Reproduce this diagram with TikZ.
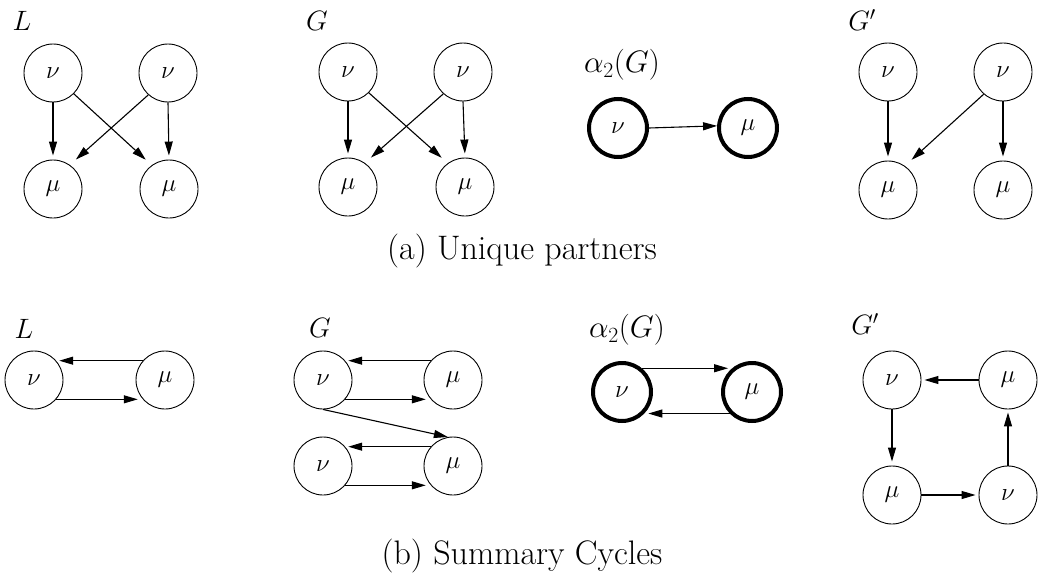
\RequirePackage{fix-cm}
\documentclass[tikz,border=0pt]{standalone}
\usetikzlibrary{arrows.meta}
\begin{document}
\begin{tikzpicture}[x=1pt,y=-1pt,
  vert/.style={circle,draw,line width=0.9pt,minimum size=58pt,inner sep=0pt,font=\fontsize{25}{30}\selectfont},
  bvert/.style={vert,line width=4pt},
  arr/.style={-{Triangle[length=14pt,width=8pt]},line width=1.1pt},
  lab/.style={font=\fontsize{28}{33}\selectfont,inner sep=0pt},
  alab/.style={font=\fontsize{31}{36}\selectfont,inner sep=0pt},
  capt/.style={font=\fontsize{34}{40}\selectfont,inner sep=0pt}]
\useasboundingbox (0,0) rectangle (1039,578);

% ---------- (a) Unique partners ----------
% L
\node[lab] (taL) at (22,21) {$L$};
\node[vert] (aLn1) at (53,73) {$\nu$};
\node[vert] (aLn2) at (168,73) {$\nu$};
\node[vert] (aLm1) at (53,189) {$\mu$};
\node[vert] (aLm2) at (169,189) {$\mu$};
\draw[arr,shorten >=4pt] (aLn1.south) -- (aLm1.north);
\draw[arr,shorten >=8pt] (aLn1.-45) -- (aLm2.126);
\draw[arr,shorten >=8pt] (aLn2.228) -- (aLm1.55);
\draw[arr,shorten >=4pt] (aLn2.south) -- (aLm2.north);
% G
\node[lab] (taG) at (317,21) {$G$};
\node[vert] (aGn1) at (348,72) {$\nu$};
\node[vert] (aGn2) at (463,72) {$\nu$};
\node[vert] (aGm1) at (348,187) {$\mu$};
\node[vert] (aGm2) at (465,187) {$\mu$};
\draw[arr,shorten >=4pt] (aGn1.south) -- (aGm1.north);
\draw[arr,shorten >=8pt] (aGn1.-45) -- (aGm2.126);
\draw[arr,shorten >=8pt] (aGn2.228) -- (aGm1.55);
\draw[arr,shorten >=4pt] (aGn2.south) -- (aGm2.north);
% alpha_2(G)
\node[alab] (taA) at (622,65) {$\alpha_2(G)$};
\node[bvert] (aAn) at (618,128) {$\nu$};
\node[bvert] (aAm) at (748,128) {$\mu$};
\draw[arr] (aAn.east) -- (aAm.176);
% G'
\node[lab] (taP) at (862,20) {$G'$};
\node[vert] (aPn1) at (888,72) {$\nu$};
\node[vert] (aPn2) at (1003,72) {$\nu$};
\node[vert] (aPm1) at (888,190) {$\mu$};
\node[vert] (aPm2) at (1003,190) {$\mu$};
\draw[arr,shorten >=4pt] (aPn1.south) -- (aPm1.north);
\draw[arr,shorten >=9pt] (aPn2.229) -- (aPm1.55);
\draw[arr,shorten >=4pt] (aPn2.south) -- (aPm2.north);

\node[capt] (capa) at (522,251) {(a) Unique partners};

% ---------- (b) Summary Cycles ----------
% L
\node[lab] (tbL) at (24,329) {$L$};
\node[vert] (bLn) at (34,380) {$\nu$};
\node[vert] (bLm) at (165,380) {$\mu$};
\draw[arr,shorten >=3pt] (bLm.139) -- (bLn.41);
\draw[arr,shorten >=5pt] (bLn.-41) -- (bLm.-139);
% G
\node[lab] (tbG) at (320,328) {$G$};
\node[vert] (bGn1) at (323,380) {$\nu$};
\node[vert] (bGm1) at (453,380) {$\mu$};
\node[vert] (bGn2) at (323,466) {$\nu$};
\node[vert] (bGm2) at (453,466) {$\mu$};
\draw[arr,shorten >=3pt] (bGm1.139) -- (bGn1.41);
\draw[arr,shorten >=5pt] (bGn1.-41) -- (bGm1.-139);
\draw[arr] (bGn1.south) -- (bGm2.100);
\draw[arr,shorten >=3pt] (bGm2.139) -- (bGn2.41);
\draw[arr,shorten >=5pt] (bGn2.-41) -- (bGm2.-139);
% alpha_2(G)
\node[alab] (tbA) at (627,330) {$\alpha_2(G)$};
\node[bvert] (bAn) at (622,392) {$\nu$};
\node[bvert] (bAm) at (752,392) {$\mu$};
\draw[arr,shorten >=4pt] (bAn.50) -- (bAm.130);
\draw[arr,shorten >=4pt] (bAm.-136) -- (bAn.-44);
% G'
\node[lab] (tbP) at (865,324) {$G'$};
\node[vert] (bPn1) at (892,380) {$\nu$};
\node[vert] (bPm1) at (1008,380) {$\mu$};
\node[vert] (bPm2) at (892,495) {$\mu$};
\node[vert] (bPn2) at (1008,495) {$\nu$};
\draw[arr,shorten >=3pt] (bPm1.west) -- (bPn1.east);
\draw[arr,shorten >=4pt] (bPn1.south) -- (bPm2.north);
\draw[arr,shorten >=3pt] (bPm2.east) -- (bPn2.west);
\draw[arr,shorten >=3pt] (bPn2.north) -- (bPm1.south);

\node[capt] (capb) at (522,556) {(b) Summary Cycles};
\end{tikzpicture}
\end{document}
